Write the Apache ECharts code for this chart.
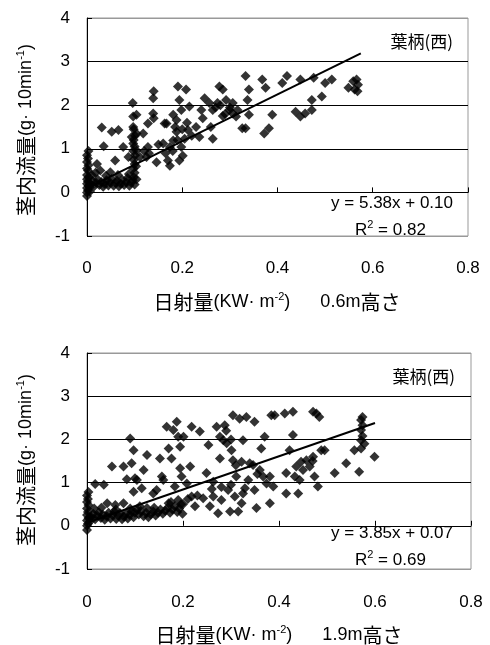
<!DOCTYPE html>
<html>
<head>
<meta charset="utf-8">
<script src="https://cdn.jsdelivr.net/npm/echarts@6/dist/echarts.min.js"></script>
<style>html,body{margin:0;padding:0;background:#fff}#c{width:490px;height:645px}</style>
</head>
<body>
<div id="c"></div>
<script>
// ---- data ----
const xTicks = [0, 0.2, 0.4, 0.6, 0.8];
const yTicks = [-1, 0, 1, 2, 3, 4];

// Top chart (0.6m)
const topData = [
  [0,-0.08],[0,0],[0.002,0.05],[0,0.1],[0.003,0.15],[0,0.2],[0.002,0.25],[0,0.3],[0.003,0.35],[0,0.4],
  [0.002,0.5],[0,0.55],[0.003,0.62],[0,0.7],[0.002,0.78],[0,0.85],[0.003,0.95],[0.006,0.02],[0.006,0.12],
  [0.008,0.18],[0.012,0.26],[0.015,0.14],[0.019,0.22],[0.022,0.3],[0.026,0.17],[0.03,0.24],[0.034,0.13],
  [0.037,0.2],[0.041,0.28],[0.045,0.16],[0.048,0.23],[0.052,0.31],[0.056,0.15],[0.06,0.22],[0.063,0.27],
  [0.067,0.14],[0.071,0.2],[0.074,0.29],[0.078,0.17],[0.082,0.24],[0.085,0.33],[0.089,0.15],[0.093,0.22],
  [0.096,0.28],[0.1,0.18],[0.01,0.4],[0.018,0.45],[0.04,0.38],[0.065,0.4],[0.088,0.42],
  [0.098,0.35],[0.1,0.45],[0.097,0.55],[0.1,0.65],[0.098,0.75],[0.101,0.85],[0.097,0.95],[0.1,1.05],
  [0.098,1.2],[0.101,1.3],[0.098,1.45],[0.103,0.6],[0.104,0.3],
  [0.021,0.65],[0.031,1.49],[0.035,1.06],[0.052,1.39],[0.066,1.43],[0.059,0.73],[0.049,0.46],[0.028,0.5],
  [0.076,1.04],[0.087,0.81],[0.096,2.05],[0.097,1.74],[0.104,1.78],[0.097,1.5],[0.094,1.27],[0.097,1.12],
  [0.104,0.96],[0.111,0.81],[0.125,0.81],[0.128,1.04],[0.118,1.35],[0.104,1.35],[0.128,1.58],[0.139,1.81],
  [0.14,1.7],[0.14,2.32],[0.139,2.16],[0.146,0.69],[0.16,1.12],[0.163,1.58],[0.167,1.58],[0.17,0.73],
  [0.174,0.61],[0.174,1.04],[0.181,1.19],[0.181,1.78],[0.188,1.66],[0.188,1.39],[0.191,2.43],[0.194,2.12],
  [0.194,0.73],[0.198,1.04],[0.201,0.84],[0.198,1.89],[0.205,1.23],[0.208,2.36],[0.212,1.43],[0.215,1.97],
  [0.229,1.5],[0.236,1.27],[0.24,1.89],[0.243,1.7],[0.247,2.16],[0.257,2.05],[0.264,1.23],[0.26,1.5],
  [0.264,1.89],[0.274,2.05],[0.278,2.43],[0.285,2.36],[0.292,2.12],[0.299,1.89],[0.306,1.81],[0.306,2.05],
  [0.313,1.74],[0.316,1.89],[0.326,1.47],[0.333,1.47],[0.337,2.12],[0.333,2.67],[0.34,2.36],[0.34,1.78],
  [0.368,2.59],[0.375,2.4],[0.372,1.35],[0.382,1.47],[0.389,1.78],[0.41,2.51],[0.42,2.67],[0.438,1.85],
  [0.448,1.74],[0.448,2.59],[0.458,1.81],[0.472,1.89],[0.472,2.12],[0.476,2.63],[0.493,2.2],[0.5,2.51],
  [0.514,2.59],[0.549,2.4],[0.559,2.55],[0.562,2.36],[0.566,2.59],[0.569,2.47],[0.568,2.32],
  [0.18,0.95],[0.19,1.2],[0.2,1.45],[0.21,1.6],[0.22,1.3],[0.185,1.5],[0.27,1.95],[0.28,2.0],[0.29,1.8],
  [0.3,1.95],[0.285,1.75],[0.12,0.95],[0.13,0.9],[0.15,1.1],[0.165,0.9]
];
const topFit = [[0, 0.10], [0.575, 3.19]];
const topEq = 'y = 5.38x + 0.10';
const topR2 = '0.82';
const topHeight = '0.6m';

// Bottom chart (1.9m)
const botData = [
  [0,-0.1],[0,0],[0.002,0.05],[0,0.12],[0.003,0.18],[0,0.25],[0.002,0.32],[0,0.4],[0.003,0.48],[0,0.55],
  [0.002,0.62],[0,0.7],[0.003,0.78],[0.006,0.1],[0.006,0.2],
  [0.009,0.2],[0.013,0.28],[0.017,0.15],[0.021,0.24],[0.025,0.31],[0.029,0.18],[0.033,0.26],[0.037,0.14],
  [0.041,0.22],[0.045,0.3],[0.049,0.17],[0.053,0.25],[0.057,0.33],[0.061,0.16],[0.065,0.23],[0.069,0.29],
  [0.073,0.15],[0.077,0.21],[0.081,0.28],[0.085,0.17],[0.089,0.25],[0.093,0.33],[0.097,0.2],[0.1,0.3],
  [0.104,0.38],[0.108,0.26],[0.112,0.34],[0.118,0.22],[0.123,0.3],[0.128,0.2],[0.133,0.27],[0.138,0.33],
  [0.143,0.24],[0.148,0.3],[0.153,0.38],[0.158,0.28],[0.163,0.35],[0.168,0.42],[0.173,0.3],[0.178,0.38],
  [0.183,0.45],[0.188,0.32],[0.192,0.4],[0.196,0.5],[0.199,0.28],[0.015,0.4],[0.03,0.42],[0.06,0.38],
  [0.09,0.4],[0.11,0.45],[0.14,0.42],[0.175,0.55],[0.19,0.6],
  [0.017,0.97],[0.035,0.95],[0.042,0.52],[0.052,1.37],[0.059,0.48],[0.076,1.37],[0.076,0.52],[0.083,1.08],
  [0.09,2.02],[0.093,1.45],[0.097,1.75],[0.1,1.1],[0.097,0.79],[0.104,1.06],[0.114,0.87],[0.118,1.29],
  [0.125,1.64],[0.125,0.41],[0.138,0.75],[0.145,0.83],[0.152,1.56],[0.156,1.14],[0.159,1.06],[0.166,2.29],
  [0.17,1.79],[0.17,0.52],[0.176,1.56],[0.18,2.22],[0.183,0.91],[0.187,2.41],[0.19,2.06],[0.194,1.83],
  [0.194,1.33],[0.197,1.14],[0.201,2.06],[0.208,0.98],[0.215,1.37],[0.218,0.68],[0.218,2.29],[0.225,0.45],
  [0.235,2.18],[0.242,0.64],[0.249,1.22],[0.253,1.87],[0.256,0.45],[0.263,1.02],[0.263,0.68],[0.27,2.29],
  [0.273,0.29],[0.277,1.56],[0.277,2.06],[0.28,0.6],[0.284,1.98],[0.287,2.33],[0.291,1.91],[0.294,0.83],
  [0.298,0.33],[0.301,1.75],[0.304,2.56],[0.304,1.52],[0.308,0.68],[0.311,1.14],[0.315,0.33],[0.318,2.48],
  [0.322,1.48],[0.322,0.52],[0.325,1.98],[0.329,0.87],[0.332,2.52],[0.336,1.06],[0.339,1.45],[0.346,1.41],
  [0.349,2.41],[0.349,0.83],[0.353,0.41],[0.36,1.29],[0.363,1.79],[0.367,1.14],[0.37,2.06],[0.374,0.98],
  [0.381,0.52],[0.381,1.14],[0.384,2.56],[0.388,0.91],[0.391,2.56],[0.412,2.6],[0.415,0.75],[0.415,1.22],
  [0.422,1.75],[0.429,2.1],[0.429,2.64],[0.433,1.14],[0.436,1.37],[0.443,1.06],[0.446,1.48],[0.45,1.29],
  [0.457,1.52],[0.464,1.37],[0.471,2.64],[0.471,1.6],[0.474,1.14],[0.478,2.6],[0.481,0.91],[0.484,2.52],
  [0.488,1.75],[0.495,1.75],[0.516,1.22],[0.54,1.45],[0.557,1.75],[0.567,1.25],[0.571,2.45],[0.571,2.22],
  [0.571,1.98],[0.571,1.79],[0.574,2.52],[0.574,2.33],[0.574,2.08],[0.578,1.9],[0.599,1.6],
  [0.2,0.5],[0.21,0.62],[0.23,0.7],[0.26,0.85],[0.28,0.9],[0.3,0.95],[0.29,2.2],[0.3,2.0],[0.31,1.4],
  [0.325,0.75],[0.355,1.2],[0.44,0.75],[0.47,1.5]
];
const botFit = [[0, 0.07], [0.6, 2.38]];
const botEq = 'y = 3.85x + 0.07';
const botR2 = '0.69';
const botHeight = '1.9m';

const legendLabel = '葉柄(西)';

// ---- chart ----
const FONT = '"Liberation Sans", Arial, "Noto Sans CJK JP", sans-serif';
const CJK = '"Noto Sans CJK JP", sans-serif';
const chart = echarts.init(document.getElementById('c'), null, {renderer: 'canvas'});

function xAxisCfg(gi, margin) {
  return {
    type: 'value', gridIndex: gi, min: xTicks[0], max: xTicks[xTicks.length - 1], interval: 0.2,
    axisLine: {show: true, onZero: true, lineStyle: {color: '#000', width: 1}},
    axisTick: {show: true, inside: true, length: 5, lineStyle: {color: '#000'}},
    axisLabel: {margin: margin, fontSize: 17, color: '#000', fontFamily: FONT,
      formatter: v => (v === 0 ? '0' : String(+v.toFixed(1)))},
    splitLine: {show: false}
  };
}
function yAxisCfg(gi) {
  return {
    type: 'value', gridIndex: gi, min: yTicks[0], max: yTicks[yTicks.length - 1], interval: 1,
    axisLine: {show: true, lineStyle: {color: '#000', width: 1}},
    axisTick: {show: true, inside: true, length: 5, lineStyle: {color: '#000'}},
    axisLabel: {margin: 17, fontSize: 17, color: '#000', fontFamily: FONT},
    splitLine: {show: true, lineStyle: {color: ['#999', '#000', '#000', '#000', '#000', '#999'], width: 1}}
  };
}
function scatter(gi, data) {
  return {type: 'scatter', xAxisIndex: gi, yAxisIndex: gi, data: data, symbol: 'diamond',
    symbolSize: [10, 10], itemStyle: {color: '#000'}, silent: true, z: 3};
}
function fit(gi, data) {
  return {type: 'line', xAxisIndex: gi, yAxisIndex: gi, data: data, showSymbol: false, symbol: 'none',
    lineStyle: {color: '#000', width: 2}, silent: true, z: 4};
}
const supRich = {
  a: {fontSize: 18, fontFamily: FONT, color: '#000', lineHeight: 22},
  c: {fontSize: 20, fontFamily: CJK, color: '#000', lineHeight: 22},
  e: {fontSize: 17, fontFamily: FONT, color: '#000', lineHeight: 22},
  l: {fontSize: 17, fontFamily: CJK, color: '#000', lineHeight: 22},
  s: {fontSize: 11, fontFamily: FONT, color: '#000', verticalAlign: 'top', lineHeight: 22}
};
function txt(x, y, text, align, extra) {
  return Object.assign({type: 'text', x: x, y: y, silent: true,
    style: {text: text, fontSize: 17, fontFamily: FONT, fill: '#000', align: align, verticalAlign: 'middle', rich: supRich}}, extra || {});
}
function xTitle(h) { return '{c|日射量}{a|(KW· m}{s|-2}{a|)      ' + h + '}{c|高さ}'; }
const yTitle = '{c|茎内流量}{a|(g· 10min}{s|-1}{a|)}';

chart.setOption({
  animation: false,
  backgroundColor: '#fff',
  grid: [
    {left: 87, top: 18, width: 381, height: 218, show: true, borderColor: '#999', borderWidth: 1, backgroundColor: 'transparent'},
    {left: 87, top: 353, width: 384, height: 216, show: true, borderColor: '#999', borderWidth: 1, backgroundColor: 'transparent'}
  ],
  xAxis: [xAxisCfg(0, 24), xAxisCfg(1, 25)],
  yAxis: [yAxisCfg(0), yAxisCfg(1)],
  series: [scatter(0, topData), fit(0, topFit), scatter(1, botData), fit(1, botFit)],
  graphic: [
    txt(453, 42, '{l|' + legendLabel + '}', 'right'),
    txt(453, 203, '{e|' + topEq + '}', 'right'),
    txt(355, 230, '{e|R}{s|2}{e| = ' + topR2 + '}', 'left'),
    txt(277, 302, xTitle(topHeight), 'center'),
    txt(26, 130, yTitle, 'center', {rotation: Math.PI / 2}),
    txt(455, 377, '{l|' + legendLabel + '}', 'right'),
    txt(453, 533, '{e|' + botEq + '}', 'right'),
    txt(355, 560, '{e|R}{s|2}{e| = ' + botR2 + '}', 'left'),
    txt(279, 635, xTitle(botHeight), 'center'),
    txt(26, 460, yTitle, 'center', {rotation: Math.PI / 2})
  ]
});
</script>
</body>
</html>
